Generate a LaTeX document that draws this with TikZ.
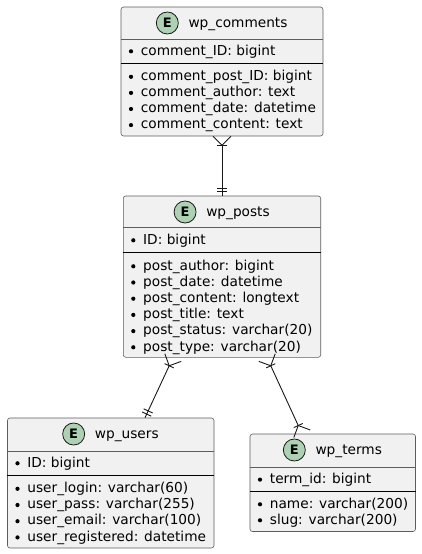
\documentclass[tikz,border=0pt]{standalone}
\usepackage{fontspec}
\setmainfont{DejaVu Sans}
\usetikzlibrary{calc}
\definecolor{boxfill}{HTML}{F1F1F1}
\definecolor{spotg}{HTML}{ADD1B2}
\definecolor{edge}{HTML}{181818}
\tikzset{
 ebox/.style={rectangle, rounded corners=2.5pt, fill=boxfill, draw=edge!70, line width=0.6pt, inner sep=0pt},
 txt/.style={anchor=base west, inner sep=0pt, font=\fontsize{13.7}{16}\selectfont, text=black},
 ttl/.style={anchor=base, inner sep=0pt, font=\fontsize{13.7}{16}\selectfont, text=black},
 spot/.style={circle, fill=spotg, draw=edge, line width=0.8pt, minimum size=22pt, inner sep=0pt, font=\fontsize{13}{13}\selectfont\bfseries},
 bul/.style={circle, fill=black, inner sep=0pt, minimum size=4.2pt},
 tsep/.style={draw=edge!70, line width=0.6pt},
 isep/.style={draw=black, line width=1pt},
 conn/.style={draw=edge, line width=0.9pt},
}
\newcommand\attrow[4]{%
 \node[bul] (#1b) at (#2+10,#3-3.7) {};
 \node[txt] (#1) at (#2+19.7,#3) {#4};}
\newcommand\ttlrow[4]{%
 \node[ttl] (#1) at (#2+16,#3+20.7) {#4};
 \node[spot] (#1s) at ([xshift=-21pt,yshift=4.7pt]#1.base west) {E};}
% crow's foot with bar: #1 point at the entity, #2 other end
\newcommand\crowbar[2]{%
 \draw[conn] ($(#1)!9pt!(#2)$) -- ($(#1)!9pt!90:(#2)$);
 \draw[conn] ($(#1)!9pt!(#2)$) -- ($(#1)!9pt!-90:(#2)$);
 \draw[conn] ($(#1)!9pt!(#2)!5pt!90:(#2)$) -- ($(#1)!9pt!(#2)!5pt!-90:(#2)$);}
% exactly one: two bars
\newcommand\twobar[2]{%
 \draw[conn] ($(#1)!4pt!(#2)!5pt!90:(#2)$) -- ($(#1)!4pt!(#2)!5pt!-90:(#2)$);
 \draw[conn] ($(#1)!7.5pt!(#2)!5pt!90:(#2)$) -- ($(#1)!7.5pt!(#2)!5pt!-90:(#2)$);}
\begin{document}
\begin{tikzpicture}[x=1pt,y=-1pt]
\useasboundingbox (0,0) rectangle (421,554);
% ---------- wp_comments
\node[ebox, minimum width=202pt, minimum height=129pt] (comments) at (222,71.5) {};
\draw[tsep] (comments.west |- 0,39) -- (comments.east |- 0,39);
\draw[isep] (comments.west |- 0,63) -- (comments.east |- 0,63);
\ttlrow{ct}{222}{7}{wp\_comments}
\attrow{c0}{121}{55}{comment\_ID: bigint}
\attrow{c1}{121}{80.5}{comment\_post\_ID: bigint}
\attrow{c2}{121}{96.6}{comment\_author: text}
\attrow{c3}{121}{112.7}{comment\_date: datetime}
\attrow{c4}{121}{128.8}{comment\_content: text}
% ---------- wp_posts
\node[ebox, minimum width=197.4pt, minimum height=161.3pt] (posts) at (222,276.65) {};
\draw[tsep] (posts.west |- 0,227.7) -- (posts.east |- 0,227.7);
\draw[isep] (posts.west |- 0,252) -- (posts.east |- 0,252);
\ttlrow{pt}{222}{196}{wp\_posts}
\attrow{p0}{123.3}{244}{ID: bigint}
\attrow{p1}{123.3}{270}{post\_author: bigint}
\attrow{p2}{123.3}{286.2}{post\_date: datetime}
\attrow{p3}{123.3}{302.4}{post\_content: longtext}
\attrow{p4}{123.3}{318.6}{post\_title: text}
\attrow{p5}{123.3}{334.8}{post\_status: varchar(20)}
\attrow{p6}{123.3}{351}{post\_type: varchar(20)}
% ---------- wp_users
\node[ebox, minimum width=206.5pt, minimum height=130pt] (users) at (110.75,483) {};
\draw[tsep] (users.west |- 0,451) -- (users.east |- 0,451);
\draw[isep] (users.west |- 0,475) -- (users.east |- 0,475);
\ttlrow{ut}{110.75}{418}{wp\_users}
\attrow{u0}{7.5}{467}{ID: bigint}
\attrow{u1}{7.5}{492.5}{user\_login: varchar(60)}
\attrow{u2}{7.5}{508.7}{user\_pass: varchar(255)}
\attrow{u3}{7.5}{524.9}{user\_email: varchar(100)}
\attrow{u4}{7.5}{541.1}{user\_registered: datetime}
% ---------- wp_terms
\node[ebox, minimum width=165.5pt, minimum height=97.5pt] (terms) at (332.75,482.75) {};
\draw[tsep] (terms.west |- 0,467) -- (terms.east |- 0,467);
\draw[isep] (terms.west |- 0,491) -- (terms.east |- 0,491);
\ttlrow{tt}{332.75}{434}{wp\_terms}
\attrow{t0}{250}{483.3}{term\_id: bigint}
\attrow{t1}{250}{508}{name: varchar(200)}
\attrow{t2}{250}{524}{slug: varchar(200)}
% ---------- connectors
\coordinate (cmA) at (comments.south);
\coordinate (psA) at (posts.north);
\coordinate (psB) at ([xshift=-49pt]posts.south);
\coordinate (usA) at ([xshift=34.25pt]users.north);
\coordinate (psC) at ([xshift=45pt]posts.south);
\coordinate (tmA) at ([xshift=-30.75pt]terms.north);
\draw[conn] ($(cmA)!9pt!(psA)$) -- (psA);
\crowbar{cmA}{psA}
\twobar{psA}{cmA}
\draw[conn] ($(psB)!9pt!(usA)$) -- (usA);
\crowbar{psB}{usA}
\twobar{usA}{psB}
\draw[conn] ($(psC)!9pt!(tmA)$) -- ($(tmA)!9pt!(psC)$);
\crowbar{psC}{tmA}
\crowbar{tmA}{psC}
\end{tikzpicture}
\end{document}
